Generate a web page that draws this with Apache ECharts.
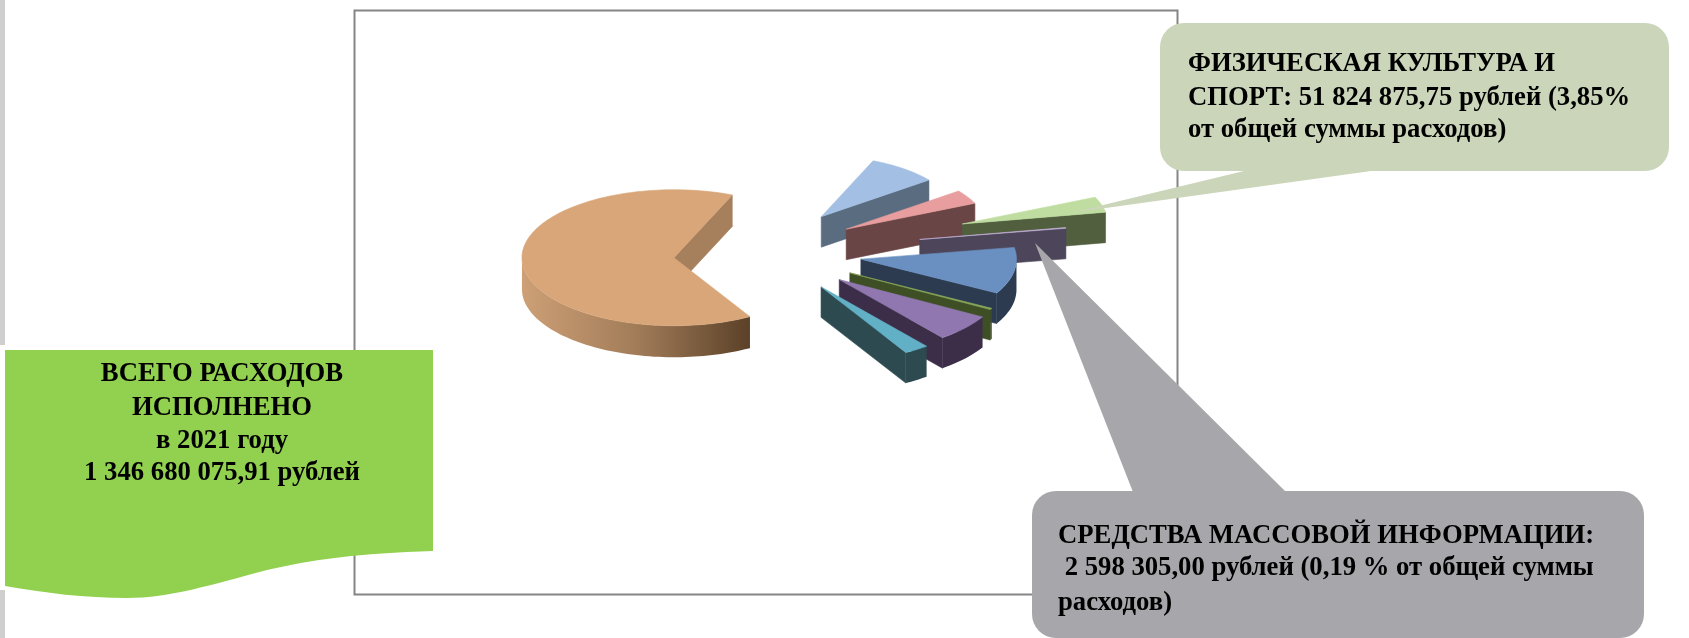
<!DOCTYPE html>
<html><head><meta charset="utf-8">
<style>html,body{margin:0;padding:0;background:#fff}#c{width:1689px;height:638px}</style>
<script src="https://cdn.jsdelivr.net/npm/echarts@6/dist/echarts.min.js"></script>
</head><body><div id="c"></div>
<script>
const categories = ['Образование','Национальная экономика','ЖКХ','Физическая культура и спорт','Средства массовой информации','Культура','Охрана окружающей среды','Социальная политика','Общегосударственные вопросы'];
const shares = [64.6, 8.4, 3.6, 3.85, 0.19, 10.8, 0.3, 5.9, 2.36];
const totalLines = ['ВСЕГО РАСХОДОВ','ИСПОЛНЕНО','в 2021 году','1 346 680 075,91 рублей'];
const sportLines = ['ФИЗИЧЕСКАЯ КУЛЬТУРА И','СПОРТ: 51 824 875,75 рублей (3,85%','от общей суммы расходов)'];
const mediaLines = ['СРЕДСТВА МАССОВОЙ ИНФОРМАЦИИ:',' 2 598 305,00 рублей (0,19 % от общей суммы','расходов)'];

const styles = [
 {top:'#D8A679',wall:'#A67F5C',arc:['#CDA076','#A27C59','#5B4128']},
 {top:'#A3BFE3',wall:'#5A6C80',arc:null},
 {top:'#E89E9E',wall:'#6A4545',arc:null},
 {top:'#BFDDA0',wall:'#515F3F',arc:null},
 {top:'#C4B4D8',wall:'#4D4559',arc:null},
 {top:'#6A90C2',wall:'#2C3B50',arc:null},
 {top:'#8AA85A',wall:'#3F4F25',arc:null},
 {top:'#9077B0',wall:'#3C2E48',arc:null},
 {top:'#62B0C6',wall:'#2D4A50',arc:null}
];
const explode = [0.62,0.62,0.62,1.35,1.02,0.62,0.62,0.62,0.62];
const pie = {cx:768, cy:252, rx:152, ry:68, depth:30.5, startDeg:60, persp:0.14, leanX:5.5, leanY:2.5};

const FONT = '"Liberation Serif","Times New Roman",serif';
const sum = shares.reduce((a,b)=>a+b,0);

echarts.graphic.registerShape('waveBanner', echarts.graphic.extendShape({
  shape:{},
  buildPath(ctx){
    ctx.moveTo(5,350); ctx.lineTo(433,350); ctx.lineTo(433,551);
    ctx.bezierCurveTo(360,553,310,560,267,570);
    ctx.bezierCurveTo(210,585,170,598,127,598);
    ctx.bezierCurveTo(85,598,45,593,5,586);
    ctx.closePath();
  }
}));

function renderItem(params, api){
  const i = params.dataIndex;
  let before = 0;
  for(let k=0;k<i;k++) before += shares[k];
  const a0 = (pie.startDeg + before/sum*360)*Math.PI/180;
  const a1 = (pie.startDeg + (before+api.value(0))/sum*360)*Math.PI/180;
  const mid = (a0+a1)/2;
  const big = i===0;
  const s = big ? 1 : 1 + pie.persp*Math.sin(mid);
  const lean = big ? 0 : Math.min(0,Math.sin(mid));
  const depth = big ? pie.depth+1 : pie.depth;
  const ox = pie.cx + explode[i]*pie.rx*Math.cos(mid) + pie.leanX*lean;
  const oy = pie.cy + explode[i]*pie.ry*Math.sin(mid) + pie.leanY*lean + (big?3:0);
  const P = (a,d)=>[ox + s*pie.rx*Math.cos(a), oy + s*pie.ry*Math.sin(a) + (d||0)];
  const apex = [ox,oy];
  const steps = Math.max(2, Math.ceil((a1-a0)/0.03));
  const arcPts = [];
  for(let k=0;k<=steps;k++) arcPts.push(P(a0+(a1-a0)*k/steps));
  const st = styles[i];
  const children = [];
  const poly = (pts,fill)=>({type:'polygon',shape:{points:pts},style:{fill:fill,stroke:fill,lineWidth:0.6}});
  const e = P(a1);
  children.push(poly([apex,e,[e[0],e[1]+depth],[apex[0],apex[1]+depth]],st.wall));
  const front = [];
  for(let k=0;k<=steps;k++){
    const a=a0+(a1-a0)*k/steps;
    if(Math.sin(a)>=-0.02) front.push(a);
  }
  if(front.length>1){
    const top = front.map(a=>P(a));
    const bot = front.map(a=>P(a,depth)).reverse();
    let fill = st.wall;
    if(st.arc){
      fill = new echarts.graphic.LinearGradient(1,0,0,0,[{offset:0,color:st.arc[2]},{offset:.5,color:st.arc[1]},{offset:1,color:st.arc[0]}]);
    }
    children.push({type:'polygon',shape:{points:top.concat(bot)},style:{fill:fill}});
  }
  children.push(poly([apex].concat(arcPts),st.top));
  return {type:'group',children:children};
}

function textEls(lines, x, baselines, size, align){
  return lines.map((t,i)=>({type:'text',z:12,x:x,y:baselines[i]-size*0.32,
    style:{text:t,fill:'#000',font:'bold '+size+'px '+FONT,textAlign:align,textVerticalAlign:'middle',verticalAlign:'middle',align:align}}));
}
const elements = [
 {type:'rect',z:0,shape:{x:0,y:0,width:5,height:345},style:{fill:'#CFCFCF'}},
 {type:'rect',z:0,shape:{x:0,y:590,width:5,height:48},style:{fill:'#CFCFCF'}},
 {type:'rect',z:0,shape:{x:354.5,y:10.5,width:823,height:584},style:{fill:'none',stroke:'#858585',lineWidth:2}},
 {type:'waveBanner',z:10,shape:{},style:{fill:'#92D14F'}},
 {type:'polygon',z:10,shape:{points:[[1244,171],[1371,171],[1070,213]]},style:{fill:'#CBD5B9'}},
 {type:'rect',z:10,shape:{x:1160,y:23,width:509,height:148,r:24},style:{fill:'#CBD5B9'}},
 {type:'polygon',z:10,shape:{points:[[1133,492],[1286,492],[1035,243]]},style:{fill:'#A7A6AB'}},
 {type:'rect',z:10,shape:{x:1032,y:491,width:612,height:147,r:24},style:{fill:'#A7A6AB'}}
].concat(
 textEls(totalLines,222,[383,417,450,482],26.7,'center'),
 textEls(sportLines,1188,[73,107,139],26.7,'left'),
 textEls(mediaLines,1058,[545,577,612],26.7,'left')
);

const chart = echarts.init(document.getElementById('c'),null,{renderer:'canvas'});
chart.setOption({
  animation:false,
  backgroundColor:'#fff',
  series:[{type:'custom',coordinateSystem:'none',z:2,renderItem:renderItem,
    data:shares.map(v=>[v])}],
  graphic:{elements:elements}
});
</script></body></html>
